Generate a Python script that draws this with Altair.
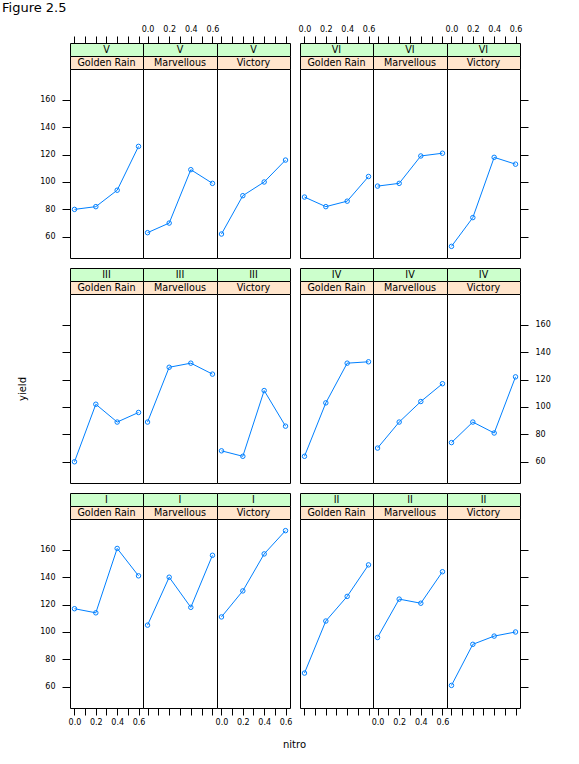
import altair as alt
import pandas as pd

# ---- data (Oats: yield by Block, Variety, nitrogen) ----
nitro_levels = [0.0, 0.2, 0.4, 0.6]
varieties = ["Golden Rain", "Marvellous", "Victory"]

I_golden = [117, 114, 161, 141]
I_marvel = [105, 140, 118, 156]
I_victory = [111, 130, 157, 174]
II_golden = [70, 108, 126, 149]
II_marvel = [96, 124, 121, 144]
II_victory = [61, 91, 97, 100]
III_golden = [60, 102, 89, 96]
III_marvel = [89, 129, 132, 124]
III_victory = [68, 64, 112, 86]
IV_golden = [64, 103, 132, 133]
IV_marvel = [70, 89, 104, 117]
IV_victory = [74, 89, 81, 122]
V_golden = [80, 82, 94, 126]
V_marvel = [63, 70, 109, 99]
V_victory = [62, 90, 100, 116]
VI_golden = [89, 82, 86, 104]
VI_marvel = [97, 99, 119, 121]
VI_victory = [53, 74, 118, 113]

series = {
    "I": [I_golden, I_marvel, I_victory],
    "II": [II_golden, II_marvel, II_victory],
    "III": [III_golden, III_marvel, III_victory],
    "IV": [IV_golden, IV_marvel, IV_victory],
    "V": [V_golden, V_marvel, V_victory],
    "VI": [VI_golden, VI_marvel, VI_victory],
}

x_ticks = [0.0, 0.1, 0.2, 0.3, 0.4, 0.5, 0.6]
y_ticks = [60, 80, 100, 120, 140, 160]

rows_layout = [["V", "VI"], ["III", "IV"], ["I", "II"]]

records = []
for b, lists in series.items():
    for v, vals in zip(varieties, lists):
        for n, y in zip(nitro_levels, vals):
            records.append({"Block": b, "Variety": v, "nitro": n, "yield": y})
df = pd.DataFrame(records)

# ---- styling ----
FONT = "DejaVu Sans"
BLUE = "#0080ff"
GREEN = "#CCFFCC"
PEACH = "#FFE5CC"
WIDTHS = [73, 74, 73]
PLOT_H = 189
STRIP_H = 13
GAP = 10
X_DOMAIN = [-0.042, 0.642]
Y_DOMAIN = [44.5, 182.5]
LABEL_EXPR = "round(datum.value*10) % 2 == 0 ? format(datum.value, '.1f') : ''"


def spacer(w, h):
    return (
        alt.Chart(alt.Data(values=[{"s": 0}]))
        .mark_point(opacity=0)
        .encode(x=alt.value(0), y=alt.value(0), opacity=alt.value(0))
        .properties(width=w, height=h,
                    view=alt.ViewBackground(fill="transparent", stroke="transparent"))
    )


def strip(text, fill, w):
    return (
        alt.Chart(alt.Data(values=[{"t": text}]))
        .mark_text(font=FONT, fontSize=9.6, fontWeight="normal", align="center",
                   baseline="middle", color="black")
        .encode(text="t:N", x=alt.value(w / 2), y=alt.value(STRIP_H / 2 + 0.5))
        .properties(width=w, height=STRIP_H,
                    view=alt.ViewBackground(fill=fill, stroke="black", strokeWidth=1))
    )


def plot_panel(block, variety, row_idx, col_no, w):
    x_kwargs = dict(values=x_ticks, tickSize=7, labelPadding=3, domain=False, grid=False,
                    labelFlush=False, labelOverlap=False, labelExpr=LABEL_EXPR,
                    tickColor="black", labelColor="black")
    if row_idx == 0:
        x_axis = alt.Axis(orient="top", offset=2 * STRIP_H, labels=(col_no % 2 == 0), **x_kwargs)
        x_title = None
    elif row_idx == 2:
        extra = {}
        if col_no == 3:
            extra = dict(titleX=77, titleY=39, titleBaseline="alphabetic", titleAlign="center",
                         titleFontSize=10, titleFontWeight="normal", titleFont=FONT)
        x_axis = alt.Axis(orient="bottom", labels=(col_no % 2 == 1), **x_kwargs, **extra)
        x_title = "nitro" if col_no == 3 else None
    else:
        x_axis = None
        x_title = None

    y_kwargs = dict(values=y_ticks, tickSize=8, labelPadding=7, domain=False, grid=False,
                    tickColor="black", labelColor="black")
    y_title = None
    if col_no == 1:
        extra = {}
        if row_idx == 1:
            extra = dict(titleX=-48, titleY=PLOT_H / 2, titleAngle=-90, titleAlign="center",
                         titleBaseline="middle", titleFontSize=10, titleFontWeight="normal",
                         titleFont=FONT)
            y_title = "yield"
        y_axis = alt.Axis(orient="left", labels=(row_idx != 1), **y_kwargs, **extra)
    elif col_no == 6:
        y_axis = alt.Axis(orient="right", labels=(row_idx == 1), **y_kwargs)
    else:
        y_axis = None

    base = alt.Chart().transform_filter(
        (alt.datum.Block == block) & (alt.datum.Variety == variety)
    ).encode(
        x=alt.X("nitro:Q", scale=alt.Scale(domain=X_DOMAIN, nice=False, zero=False),
                axis=x_axis, title=x_title),
        y=alt.Y("yield:Q", scale=alt.Scale(domain=Y_DOMAIN, nice=False, zero=False),
                axis=y_axis, title=y_title),
    )
    line = base.mark_line(color=BLUE, strokeWidth=1)
    pts = base.mark_point(color=BLUE, shape="circle", filled=False, size=20, strokeWidth=1,
                          opacity=1)
    return alt.layer(line, pts).properties(
        width=w, height=PLOT_H,
        view=alt.ViewBackground(fill="white", stroke="black", strokeWidth=1),
    )


cells = []
for r, pair in enumerate(rows_layout):
    # green strip row, peach strip row, plot row
    for kind in ("block", "variety", "plot"):
        for g, block in enumerate(pair):
            if g == 1:
                cells.append(spacer(GAP, STRIP_H if kind != "plot" else PLOT_H))
            for vi, variety in enumerate(varieties):
                w = WIDTHS[vi]
                col_no = g * 3 + vi + 1
                if kind == "block":
                    cells.append(strip(block, GREEN, w))
                elif kind == "variety":
                    cells.append(strip(variety, PEACH, w))
                else:
                    cells.append(plot_panel(block, variety, r, col_no, w))
    if r < len(rows_layout) - 1:
        for g in range(2):
            if g == 1:
                cells.append(spacer(GAP, GAP))
            for vi in range(3):
                cells.append(spacer(WIDTHS[vi], GAP))

chart = alt.concat(
    *cells, columns=7, spacing=0, bounds="flush", data=df,
    title=alt.TitleParams("Figure 2.5", anchor="start", frame="group", dx=-68,
                          fontSize=13, fontWeight="normal", font=FONT, color="black",
                          offset=10),
    padding={"left": 2, "top": 1, "right": 5, "bottom": 5},
).configure_axis(
    labelFont=FONT, labelFontSize=8, titleFont=FONT,
).configure_view(stroke="black")

chart.save("out.html", embed_options={"renderer": "svg", "actions": False})
